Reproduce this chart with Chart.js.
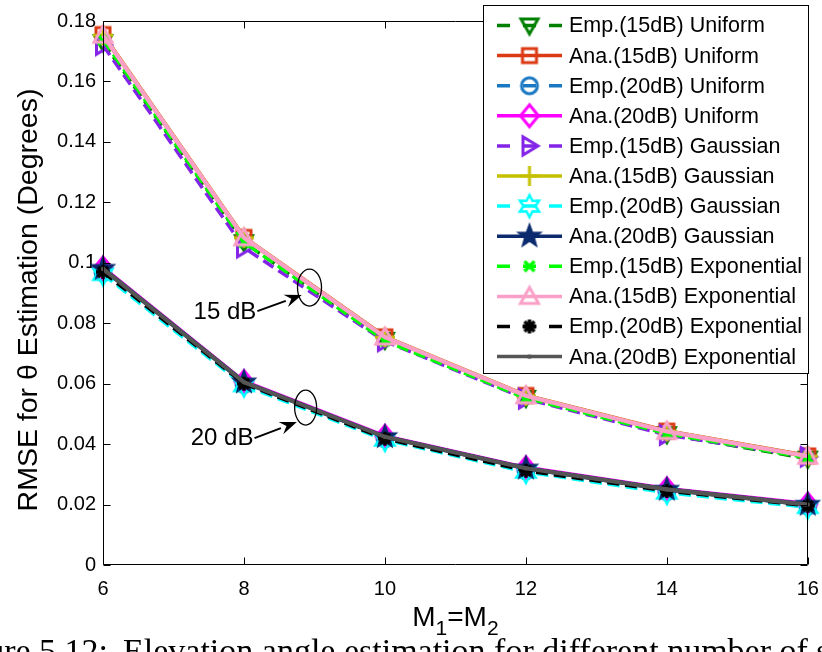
<!DOCTYPE html>
<html><head><meta charset="utf-8">
<script src="https://cdn.jsdelivr.net/npm/chart.js@4/dist/chart.umd.min.js"></script>
<style>html,body{margin:0;padding:0;background:#fff;overflow:hidden}#wrap{width:822px;height:652px}</style>
</head><body><div id="wrap"><canvas id="c" width="822" height="652"></canvas></div>
<script>
// ---------- data ----------
const xValues = [6, 8, 10, 12, 14, 16];
const xTickLabels = ['6', '8', '10', '12', '14', '16'];
const yTickValues = [0, 0.02, 0.04, 0.06, 0.08, 0.1, 0.12, 0.14, 0.16, 0.18];
const yTickLabels = ['0', '0.02', '0.04', '0.06', '0.08', '0.1', '0.12', '0.14', '0.16', '0.18'];

const seriesNames = [
  'Emp.(15dB) Uniform', 'Ana.(15dB) Uniform', 'Emp.(20dB) Uniform', 'Ana.(20dB) Uniform',
  'Emp.(15dB) Gaussian', 'Ana.(15dB) Gaussian', 'Emp.(20dB) Gaussian', 'Ana.(20dB) Gaussian',
  'Emp.(15dB) Exponential', 'Ana.(15dB) Exponential', 'Emp.(20dB) Exponential', 'Ana.(20dB) Exponential'
];
const emp15Uniform     = [0.1730, 0.1068, 0.0745, 0.0553, 0.0433, 0.0352];
const ana15Uniform     = [0.1755, 0.1084, 0.0755, 0.0561, 0.0443, 0.0361];
const emp20Uniform     = [0.0968, 0.0598, 0.0418, 0.0312, 0.0243, 0.0195];
const ana20Uniform     = [0.0983, 0.0607, 0.0426, 0.0322, 0.0252, 0.0202];
const emp15Gaussian    = [0.1720, 0.1050, 0.0740, 0.0550, 0.0430, 0.0358];
const ana15Gaussian    = [0.1753, 0.1083, 0.0754, 0.0560, 0.0442, 0.0360];
const emp20Gaussian    = [0.0962, 0.0594, 0.0414, 0.0308, 0.0239, 0.0191];
const ana20Gaussian    = [0.0981, 0.0605, 0.0424, 0.0320, 0.0250, 0.0200];
const emp15Exponential = [0.1738, 0.1068, 0.0742, 0.0552, 0.0435, 0.0355];
const ana15Exponential = [0.1753, 0.1083, 0.0754, 0.0560, 0.0442, 0.0360];
const emp20Exponential = [0.0970, 0.0600, 0.0418, 0.0312, 0.0245, 0.0196];
const ana20Exponential = [0.0980, 0.0605, 0.0424, 0.0320, 0.0250, 0.0200];

const seriesValues = [emp15Uniform, ana15Uniform, emp20Uniform, ana20Uniform,
  emp15Gaussian, ana15Gaussian, emp20Gaussian, ana20Gaussian,
  emp15Exponential, ana15Exponential, emp20Exponential, ana20Exponential];
const seriesColors = ['#008000', '#dc3a14', '#1a78c2', '#ff00ff', '#8324e6', '#c4c000',
  '#00ffff', '#0c2a6e', '#00ff00', '#faa0c8', '#000000', '#555555'];
const seriesMarkers = ['triDown', 'square', 'circle', 'diamond', 'triRight', 'plus',
  'hexagram', 'pentagram', 'xmark', 'triUp', 'asterisk', 'dot'];
const seriesDashed = [true, false, true, false, true, false, true, false, true, false, true, false];

const xTitleParts = ['M', '1', '=', 'M', '2'];
const yTitle = 'RMSE for \u03b8 Estimation (Degrees)';
const annotations = [
  {label: '15 dB', textX: 7.73, textY: 0.0837, fromX: 8.19, fromY: 0.0840, toX: 8.82, toY: 0.0893, ellX: 8.93, ellY: 0.0918, rx: 12, ry: 18.5},
  {label: '20 dB', textX: 7.69, textY: 0.0420, fromX: 8.15, fromY: 0.0420, toX: 8.75, toY: 0.0473, ellX: 8.875, ellY: 0.0521, rx: 11, ry: 17.5}
];
const captionLead = 'Figure 5.12:';
const captionText = 'Elevation angle estimation for different number of sensors';

// ---------- markers ----------
const SANS = '"Liberation Sans", Arial, Helvetica, sans-serif';
function makeMarker(type, color) {
  const c = document.createElement('canvas');
  c.width = 34; c.height = 34;
  const g = c.getContext('2d');
  g.translate(17, 17);
  g.strokeStyle = color; g.fillStyle = color; g.lineWidth = 3; g.lineJoin = 'miter';
  g.beginPath();
  if (type === 'triDown') { g.moveTo(-8.5, -6.5); g.lineTo(8.5, -6.5); g.lineTo(0, 8.5); g.closePath(); g.stroke(); }
  else if (type === 'triUp') { g.moveTo(-9, 7); g.lineTo(9, 7); g.lineTo(0, -9); g.closePath(); g.stroke(); }
  else if (type === 'triRight') { g.moveTo(-6.5, -9); g.lineTo(-6.5, 9); g.lineTo(8.5, 0); g.closePath(); g.stroke(); }
  else if (type === 'square') { g.rect(-7, -7, 14, 14); g.stroke(); }
  else if (type === 'circle') { g.arc(0, 0, 8, 0, Math.PI * 2); g.stroke(); }
  else if (type === 'diamond') { g.moveTo(0, -11); g.lineTo(9, 0); g.lineTo(0, 11); g.lineTo(-9, 0); g.closePath(); g.stroke(); }
  else if (type === 'plus') { g.moveTo(-10, 0); g.lineTo(10, 0); g.moveTo(0, -10); g.lineTo(0, 10); g.stroke(); }
  else if (type === 'xmark') { g.lineWidth = 3.5; g.moveTo(-5, -5); g.lineTo(5, 5); g.moveTo(5, -5); g.lineTo(-5, 5); g.stroke(); }
  else if (type === 'asterisk') {
    g.lineWidth = 3.5;
    for (let k = 0; k < 4; k++) { const a = k * Math.PI / 4; g.moveTo(-7 * Math.cos(a), -7 * Math.sin(a)); g.lineTo(7 * Math.cos(a), 7 * Math.sin(a)); }
    g.stroke();
  }
  else if (type === 'dot') { g.arc(0, 0, 2.2, 0, Math.PI * 2); g.fill(); }
  else if (type === 'pentagram' || type === 'hexagram') {
    const n = type === 'pentagram' ? 5 : 6;
    const R = type === 'pentagram' ? 12 : 11, r = type === 'pentagram' ? 5 : 6;
    for (let k = 0; k < 2 * n; k++) {
      const a = -Math.PI / 2 + k * Math.PI / n;
      const rr = k % 2 === 0 ? R : r;
      if (k === 0) g.moveTo(rr * Math.cos(a), rr * Math.sin(a)); else g.lineTo(rr * Math.cos(a), rr * Math.sin(a));
    }
    g.closePath();
    if (type === 'pentagram') { g.lineWidth = 1.5; g.fill(); g.stroke(); } else { g.lineWidth = 2.5; g.stroke(); }
  }
  return c;
}
const markerImgs = seriesMarkers.map((m, i) => makeMarker(m, seriesColors[i]));
const DASH = [12, 6];

const n = seriesNames.length;
const datasets = seriesNames.map((name, i) => ({
  label: name,
  data: xValues.map((x, j) => ({x: x, y: seriesValues[i][j]})),
  borderColor: seriesColors[i],
  backgroundColor: seriesColors[i],
  borderWidth: seriesDashed[i] ? 3.5 : 4.2,
  borderDash: seriesDashed[i] ? DASH : [],
  pointStyle: markerImgs[i],
  pointRadius: 10,
  pointHoverRadius: 10,
  tension: 0,
  fill: false,
  clip: false,
  order: n - i
}));

// ---------- custom drawing ----------
const decor = {
  id: 'decor',
  afterDatasetsDraw(chart) {
    const {ctx, chartArea: a, scales: {x, y}} = chart;
    ctx.save();
    ctx.strokeStyle = '#000'; ctx.lineWidth = 1;
    const L = Math.round(a.left) + 0.5, R = Math.round(a.right) - 0.5, T = Math.round(a.top) + 0.5, B = Math.round(a.bottom) - 0.5;
    ctx.beginPath();
    ctx.rect(L, T, R - L, B - T);
    xValues.forEach(v => { const px = Math.round(x.getPixelForValue(v)) + 0.5; ctx.moveTo(px, B); ctx.lineTo(px, B - 7); ctx.moveTo(px, T); ctx.lineTo(px, T + 7); });
    yTickValues.forEach(v => { const py = Math.round(y.getPixelForValue(v)) + 0.5; ctx.moveTo(L, py); ctx.lineTo(L + 7, py); ctx.moveTo(R, py); ctx.lineTo(R - 7, py); });
    ctx.stroke();

    // annotations
    annotations.forEach(an => {
      const ex = x.getPixelForValue(an.ellX), ey = y.getPixelForValue(an.ellY);
      ctx.beginPath(); ctx.lineWidth = 1.3; ctx.strokeStyle = '#000';
      ctx.ellipse(ex, ey, an.rx, an.ry, 0, 0, Math.PI * 2); ctx.stroke();
      const fx = x.getPixelForValue(an.fromX), fy = y.getPixelForValue(an.fromY);
      const tx = x.getPixelForValue(an.toX), ty = y.getPixelForValue(an.toY);
      const ang = Math.atan2(ty - fy, tx - fx);
      const hl = 17, hw = 6.5;
      const bx = tx - hl * Math.cos(ang), by = ty - hl * Math.sin(ang);
      ctx.beginPath(); ctx.lineWidth = 2; ctx.moveTo(fx, fy); ctx.lineTo(bx, by); ctx.stroke();
      ctx.beginPath(); ctx.fillStyle = '#000';
      ctx.moveTo(tx, ty);
      ctx.lineTo(bx + hw * Math.sin(ang), by - hw * Math.cos(ang));
      ctx.lineTo(bx + 0.35 * hl * Math.cos(ang), by + 0.35 * hl * Math.sin(ang));
      ctx.lineTo(bx - hw * Math.sin(ang), by + hw * Math.cos(ang));
      ctx.closePath(); ctx.fill();
      ctx.font = '24px ' + SANS; ctx.textAlign = 'center'; ctx.textBaseline = 'middle';
      ctx.fillText(an.label, x.getPixelForValue(an.textX), y.getPixelForValue(an.textY));
    });
    ctx.restore();
  },
  afterDraw(chart) {
    const {ctx, chartArea: a} = chart;
    ctx.save();
    // legend
    const lx = 483.5, ly = 5.5, lw = 325, lh = 368;
    ctx.fillStyle = '#fff'; ctx.fillRect(lx, ly, lw, lh);
    ctx.strokeStyle = '#000'; ctx.lineWidth = 1; ctx.strokeRect(lx, ly, lw, lh);
    ctx.font = '21.5px ' + SANS; ctx.textBaseline = 'middle'; ctx.textAlign = 'left';
    seriesNames.forEach((name, i) => {
      const ry = 25.5 + i * 30.1;
      ctx.strokeStyle = seriesColors[i]; ctx.lineWidth = 3.5; ctx.setLineDash([]);
      ctx.beginPath();
      if (seriesDashed[i]) { ctx.moveTo(497, ry); ctx.lineTo(510, ry); ctx.moveTo(523, ry); ctx.lineTo(536, ry); ctx.moveTo(549, ry); ctx.lineTo(562, ry); }
      else { ctx.moveTo(497, ry); ctx.lineTo(562, ry); }
      ctx.stroke();
      ctx.drawImage(markerImgs[i], 529.5 - 17, ry - 17);
      ctx.fillStyle = '#000';
      ctx.fillText(name, 569, ry + 1);
    });
    // y title
    ctx.save();
    ctx.translate(29, 300);
    ctx.rotate(-Math.PI / 2);
    ctx.font = '28.5px ' + SANS; ctx.textAlign = 'center'; ctx.textBaseline = 'middle'; ctx.fillStyle = '#000';
    ctx.fillText(yTitle, 0, 0);
    ctx.restore();
    // x title with subscripts
    const big = '28px ' + SANS, small = '21px ' + SANS;
    const fonts = [big, small, big, big, small];
    const offs = [0, 9, 0, 0, 9];
    let widths = xTitleParts.map((p, k) => { ctx.font = fonts[k]; return ctx.measureText(p).width; });
    const total = widths.reduce((s, w) => s + w, 0);
    let cx = (a.left + a.right) / 2 - total / 2;
    ctx.fillStyle = '#000'; ctx.textAlign = 'left'; ctx.textBaseline = 'alphabetic';
    xTitleParts.forEach((p, k) => { ctx.font = fonts[k]; ctx.fillText(p, cx, 626 + offs[k]); cx += widths[k]; });
    // clipped caption
    ctx.font = '34px "Liberation Serif", "DejaVu Serif", serif';
    ctx.textAlign = 'right'; ctx.fillText(captionLead, 108, 662);
    ctx.textAlign = 'left'; ctx.fillText(captionText, 123, 662);
    ctx.restore();
  }
};

const tickFont = {family: '"Liberation Sans", Arial, Helvetica, sans-serif', size: 20};
new Chart(document.getElementById('c'), {
  type: 'line',
  data: {datasets: datasets},
  options: {
    responsive: false,
    animation: false,
    devicePixelRatio: 1,
    layout: {padding: {left: 23, right: 13, top: 21, bottom: 0}},
    plugins: {legend: {display: false}, tooltip: {enabled: false}},
    scales: {
      x: {
        type: 'linear', min: 6, max: 16,
        afterBuildTicks: s => { s.ticks = xValues.map(v => ({value: v})); },
        afterFit: s => { s.height = 87; s.paddingLeft = 0; s.paddingRight = 0; },
        ticks: {color: '#000', font: tickFont, padding: 12, maxRotation: 0, autoSkip: false,
          callback: (v, i) => xTickLabels[i]},
        grid: {display: false, drawTicks: false},
        border: {display: false}
      },
      y: {
        type: 'linear', min: 0, max: 0.18,
        afterBuildTicks: s => { s.ticks = yTickValues.map(v => ({value: v})); },
        afterFit: s => { s.width = 80; s.paddingTop = 0; s.paddingBottom = 0; },
        ticks: {color: '#000', font: tickFont, padding: 7, autoSkip: false,
          callback: (v, i) => yTickLabels[i]},
        grid: {display: false, drawTicks: false},
        border: {display: false}
      }
    }
  },
  plugins: [decor]
});
</script></body></html>
